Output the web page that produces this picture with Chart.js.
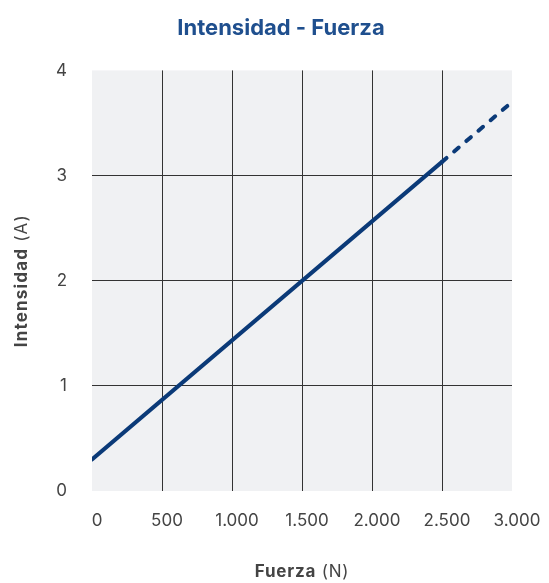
<!DOCTYPE html>
<html>
<head>
<meta charset="utf-8">
<script src="https://cdn.jsdelivr.net/npm/chart.js@4"></script>
<style>
  html, body { margin: 0; padding: 0; background: #ffffff; }
  #wrap { width: 549px; height: 583px; position: relative; }
</style>
</head>
<body>
<div id="wrap"><canvas id="c" width="549" height="583"></canvas></div>
<script>
// ---- Data ----
const chartTitle = 'Intensidad - Fuerza';
const xTitleBold = 'Fuerza';
const xTitleRegular = ' (N)';
const yTitleBold = 'Intensidad';
const yTitleRegular = ' (A)';

const fuerzaSolid = [0, 2500];
const intensidadSolid = [0.3, 3.13];
const fuerzaDashed = [2500, 3000];
const intensidadDashed = [3.13, 3.7];

const xTickValues = [0, 500, 1000, 1500, 2000, 2500, 3000];
const xTickLabels = ['0', '500', '1.000', '1.500', '2.000', '2.500', '3.000'];
const yTickValues = [0, 1, 2, 3, 4];
const yTickLabels = ['0', '1', '2', '3', '4'];

// ---- Style ----
const FONT = 'Inter, "Open Sans", sans-serif';
const lineColor = '#0b3a78';
const titleColor = '#1f4f8e';
const tickColor = '#444444';
const gridColor = '#333333';
const plotBg = '#f0f1f3';

const toPoints = (xs, ys) => xs.map((x, i) => ({ x: x, y: ys[i] }));

const plotBgPlugin = {
  id: 'plotBg',
  beforeDraw(chart) {
    const a = chart.chartArea, ctx = chart.ctx;
    ctx.save();
    ctx.fillStyle = plotBg;
    ctx.fillRect(a.left, a.top, a.right - a.left, a.bottom - a.top);
    ctx.restore();
  }
};

function drawMixed(ctx, bold, regular, size, spacing) {
  if ('letterSpacing' in ctx) ctx.letterSpacing = spacing + 'px';
  ctx.font = 'bold ' + size + 'px ' + FONT;
  const wb = ctx.measureText(bold).width;
  ctx.font = 'normal ' + size + 'px ' + FONT;
  const wr = ctx.measureText(regular).width;
  const total = wb + wr;
  ctx.textAlign = 'left';
  ctx.textBaseline = 'middle';
  ctx.font = 'bold ' + size + 'px ' + FONT;
  ctx.fillText(bold, -total / 2, 0);
  ctx.font = 'normal ' + size + 'px ' + FONT;
  ctx.fillText(regular, -total / 2 + wb, 0);
}

const axisTitlePlugin = {
  id: 'axisTitles',
  afterDraw(chart) {
    const a = chart.chartArea, ctx = chart.ctx;
    ctx.save();
    ctx.fillStyle = '#444444';
    ctx.translate((a.left + a.right) / 2, 572);
    drawMixed(ctx, xTitleBold, xTitleRegular, 17, 0.8);
    ctx.restore();
    ctx.save();
    ctx.fillStyle = '#444444';
    ctx.translate(22, (a.top + a.bottom) / 2);
    ctx.rotate(-Math.PI / 2);
    drawMixed(ctx, yTitleBold, yTitleRegular, 17, 1.2);
    ctx.restore();
  }
};

new Chart(document.getElementById('c'), {
  type: 'line',
  data: {
    datasets: [
      {
        label: 'Intensidad',
        data: toPoints(fuerzaSolid, intensidadSolid),
        borderColor: lineColor,
        borderWidth: 4,
        pointRadius: 0,
        borderCapStyle: 'round',
        fill: false,
        tension: 0
      },
      {
        label: 'Extrapolación',
        data: toPoints(fuerzaDashed, intensidadDashed),
        borderColor: lineColor,
        borderWidth: 4,
        borderDash: [6, 10],
        borderCapStyle: 'round',
        pointRadius: 0,
        fill: false,
        tension: 0
      }
    ]
  },
  options: {
    responsive: false,
    animation: false,
    devicePixelRatio: 1,
    layout: { padding: { left: 50, right: 37, top: 0, bottom: 0 } },
    plugins: {
      legend: { display: false },
      tooltip: { enabled: false },
      title: {
        display: true,
        text: chartTitle,
        color: titleColor,
        font: { family: FONT, size: 22, weight: 'bold' },
        padding: { top: 15, bottom: 29 }
      }
    },
    scales: {
      x: {
        type: 'linear',
        min: 0,
        max: 3000,
        afterBuildTicks(scale) { scale.ticks = xTickValues.map(v => ({ value: v })); },
        afterFit(scale) { scale.height = 92; scale.paddingRight = 0; scale.paddingLeft = 0; },
        border: { display: false },
        grid: {
          drawTicks: false,
          lineWidth: 1,
          color: ctx => (ctx.tick && (ctx.tick.value === 0 || ctx.tick.value === 3000)) ? 'rgba(0,0,0,0)' : gridColor
        },
        ticks: {
          padding: 20,
          labelOffset: 5,
          color: tickColor,
          font: { family: FONT, size: 17 },
          maxRotation: 0,
          callback: (v) => xTickLabels[xTickValues.indexOf(v)]
        }
      },
      y: {
        type: 'linear',
        min: 0,
        max: 4,
        afterBuildTicks(scale) { scale.ticks = yTickValues.map(v => ({ value: v })); },
        afterFit(scale) { scale.width = 42; },
        border: { display: false },
        grid: {
          drawTicks: false,
          lineWidth: 1,
          color: ctx => (ctx.tick && (ctx.tick.value === 0 || ctx.tick.value === 4)) ? 'rgba(0,0,0,0)' : gridColor
        },
        ticks: {
          padding: 25,
          color: tickColor,
          font: { family: FONT, size: 17 },
          callback: (v) => yTickLabels[yTickValues.indexOf(v)]
        }
      }
    }
  },
  plugins: [plotBgPlugin, axisTitlePlugin]
});
</script>
</body>
</html>
